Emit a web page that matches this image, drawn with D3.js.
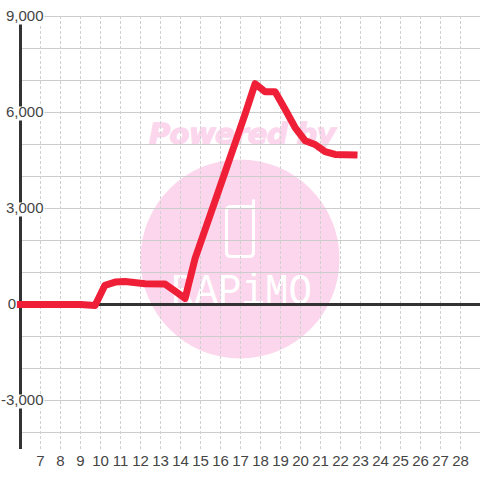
<!DOCTYPE html>
<html><head><meta charset="utf-8">
<script src="https://cdn.jsdelivr.net/npm/d3@7"></script>
<style>html,body{margin:0;padding:0;background:#fff}svg{display:block}</style>
</head><body><div id="c"></div>
<script>
const dayTicks=[7,8,9,10,11,12,13,14,15,16,17,18,19,20,21,22,23,24,25,26,27,28];
const labelledTicks=[9000,6000,3000,0,-3000];
const yLabels=["9,000","6,000","3,000","0","-3,000"];
const gridTicks=[9000,8000,7000,6000,5000,4000,3000,2000,1000,0,-1000,-2000,-3000,-4000];
const days=[5.82,7,8,9,9.73,10.22,10.73,11.23,12.23,13.23,13.73,14.23,14.73,15.23,15.73,16.23,16.73,17.23,17.73,18.23,18.73,19.23,19.73,20.23,20.73,21.23,21.73,22.23,22.85];
const values=[0,0,0,0,-30,600,700,720,650,640,420,190,1440,2340,3240,4140,5040,5950,6900,6650,6650,6100,5530,5120,5000,4780,4690,4680,4670];
const poweredText="Powered by", brandText="RAPiMO";
const W=480,H=480;
const x=d3.scaleLinear().domain([7,28]).range([40.5,460.5]);
const y=d3.scaleLinear().domain([9000,-4000]).range([16.5,432.5]);
const svg=d3.select("#c").append("svg").attr("width",W).attr("height",H);
svg.append("rect").attr("width",W).attr("height",H).attr("fill","#fff");
// watermark
const wm=svg.append("g");
const pink="#fbd6ec";
wm.append("circle").attr("cx",240).attr("cy",259).attr("r",99.5).attr("fill",pink);
wm.append("text").attr("x",242).attr("y",144).attr("text-anchor","middle").attr("font-family","'DejaVu Sans',sans-serif").attr("font-size",29).attr("letter-spacing",-0.6).attr("font-weight","bold").attr("font-style","italic").attr("fill",pink).attr("stroke",pink).attr("stroke-width",1.3).text(poweredText);
wm.append("path").attr("d","M253.5 200.5 V252 Q253.5 256.5 249 256.5 H231 Q226.5 256.5 226.5 252 V211 Q226.5 206.5 231 206.5 H253.5").attr("fill","none").attr("stroke","#fff").attr("stroke-width",3).attr("stroke-linecap","round");
wm.append("text").attr("transform","translate(171,304) scale(0.87,1)").attr("font-family","'Liberation Mono',monospace").attr("font-size",45).attr("fill","#fff").text(brandText);
// grid
const grid=svg.append("g");
grid.selectAll(".h").data(gridTicks).join("line").attr("x1",20).attr("x2",480).attr("y1",d=>y(d)).attr("y2",d=>y(d)).attr("stroke","#ccc").attr("stroke-width",1);
grid.selectAll(".v").data(dayTicks).join("line").attr("x1",d=>x(d)).attr("x2",d=>x(d)).attr("y1",16).attr("y2",449).attr("stroke","#d0d0d0").attr("stroke-dasharray","3 2");
// axes
svg.append("line").attr("x1",20.5).attr("x2",20.5).attr("y1",16).attr("y2",449).attr("stroke","#333").attr("stroke-width",3);
svg.append("line").attr("x1",20).attr("x2",480).attr("y1",y(0)).attr("y2",y(0)).attr("stroke","#333").attr("stroke-width",3);
// y labels with white backing
const font="'Liberation Sans',Arial,sans-serif";
const yl=svg.append("g");
labelledTicks.forEach((v,i)=>{
  const t=yl.append("text").attr("x",v===0?16:43.5).attr("y",y(v)+4.5).attr("text-anchor","end").attr("font-family",font).attr("font-size",15).attr("fill","#444").text(yLabels[i]);
  const b=t.node().getBBox();
  if(v!==0) yl.insert("rect","text").attr("x",b.x).attr("y",y(v)-6).attr("width",b.width+1).attr("height",14).attr("fill","#fff");
});
// x labels
svg.append("g").selectAll("text").data(dayTicks).join("text").attr("x",d=>x(d)).attr("y",466).attr("text-anchor","middle").attr("font-family",font).attr("font-size",15).attr("fill","#444").text(d=>d);
// series
const line=d3.line().x((d,i)=>x(days[i])).y(d=>y(d));
svg.append("path").datum(values).attr("d",line).attr("fill","none").attr("stroke","#ef1f38").attr("stroke-width",7).attr("stroke-linejoin","round");
</script></body></html>
